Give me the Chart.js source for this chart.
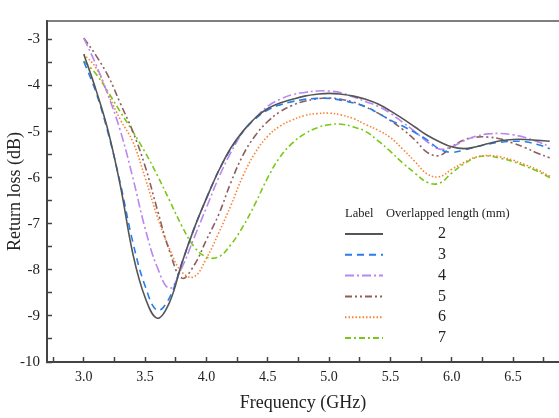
<!DOCTYPE html>
<html>
<head>
<meta charset="utf-8">
<script src="https://cdn.jsdelivr.net/npm/chart.js@4.4.1/dist/chart.umd.min.js"></script>
<style>
  body { margin: 0; background: #fff; }
  #contenedor { width: 559px; height: 418px; position: relative; }
</style>
</head>
<body>
<div id="contenedor"><canvas id="myChart"></canvas></div>
<script>
//DATOS
const frecuencia = [3.0, 3.1, 3.2, 3.3, 3.4, 3.5, 3.6, 3.7, 3.8, 3.9,
  4.0, 4.1, 4.2, 4.3, 4.4, 4.5, 4.6, 4.7, 4.8, 4.9,
  5.0, 5.1, 5.2, 5.3, 5.4, 5.5, 5.6, 5.7, 5.8, 5.9,
  6.0, 6.1, 6.2, 6.3, 6.4, 6.5, 6.6, 6.7, 6.8];

const largos = ["2", "3", "4", "5", "6", "7"];

const rl2 = [-3.32, -4.1, -5.0, -6.2, -7.65, -8.6, -9.05, -8.7, -7.85, -7.1,
  -6.45, -5.85, -5.35, -4.98, -4.7, -4.5, -4.38, -4.3, -4.23, -4.19,
  -4.17, -4.19, -4.23, -4.3, -4.4, -4.55, -4.72, -4.9, -5.08, -5.22,
  -5.33, -5.37, -5.33, -5.26, -5.2, -5.17, -5.17, -5.19, -5.21];

const rl3 = [-3.48, -4.15, -5.05, -6.15, -7.4, -8.35, -8.88, -8.6, -7.85, -7.1,
  -6.45, -5.85, -5.37, -5.0, -4.72, -4.53, -4.42, -4.35, -4.3, -4.28,
  -4.28, -4.32, -4.38, -4.46, -4.6, -4.75, -4.88, -5.02, -5.18, -5.38,
  -5.45, -5.4, -5.33, -5.27, -5.23, -5.21, -5.22, -5.28, -5.37];

const rl4 = [-2.97, -3.55, -4.22, -5.0, -6.0, -7.1, -7.95, -8.4, -7.95, -7.3,
  -6.65, -6.0, -5.45, -5.0, -4.7, -4.45, -4.3, -4.2, -4.15, -4.12,
  -4.12, -4.16, -4.25, -4.35, -4.45, -4.6, -4.8, -5.0, -5.22, -5.38,
  -5.33, -5.2, -5.1, -5.05, -5.04, -5.07, -5.13, -5.22, -5.32];

const rl5 = [-2.97, -3.35, -3.8, -4.4, -5.0, -5.75, -6.7, -7.6, -8.18, -7.9,
  -7.35, -6.8, -6.1, -5.5, -5.08, -4.78, -4.57, -4.43, -4.34, -4.29,
  -4.27, -4.3, -4.36, -4.47, -4.6, -4.76, -4.95, -5.18, -5.45, -5.52,
  -5.33, -5.18, -5.12, -5.12, -5.16, -5.25, -5.35, -5.47, -5.57];

const rl6 = [-3.32, -3.62, -4.2, -4.75, -5.22, -6.0, -6.85, -7.55, -8.05, -8.15,
  -7.75, -7.2, -6.6, -5.95, -5.45, -5.1, -4.88, -4.75, -4.65, -4.61,
  -4.6, -4.64, -4.72, -4.85, -4.97, -5.13, -5.38, -5.65, -5.92, -5.98,
  -5.82, -5.67, -5.55, -5.52, -5.55, -5.62, -5.72, -5.83, -5.97];

const rl7 = [-3.47, -3.75, -4.15, -4.58, -5.0, -5.45, -5.95, -6.5, -7.05, -7.5,
  -7.72, -7.72, -7.45, -7.05, -6.55, -6.0, -5.55, -5.25, -5.05, -4.92,
  -4.85, -4.84, -4.9, -5.0, -5.2, -5.43, -5.68, -5.9, -6.1, -6.12,
  -5.9, -5.7, -5.56, -5.53, -5.58, -5.65, -5.75, -5.86, -6.0];

const ticksX = [2.75, 3.0, 3.25, 3.5, 3.75, 4.0, 4.25, 4.5, 4.75, 5.0, 5.25, 5.5, 5.75, 6.0, 6.25, 6.5, 6.75];
const ticksY = [-10, -9.5, -9, -8.5, -8, -7.5, -7, -6.5, -6, -5.5, -5, -4.5, -4, -3.5, -3];

//ESTILOS
const colores = ["rgb(85,85,85)", "rgb(40,125,235)", "rgb(185,135,240)", "rgb(140,95,95)", "rgb(250,130,50)", "rgb(120,200,20)"];
const trazos = [[], [7, 5], [9, 3, 2, 3], [7, 3, 2, 3, 2, 3], [1.5, 2], [6, 3, 2, 3]];
const series = [rl2, rl3, rl4, rl5, rl6, rl7];

const FUENTE = "'Liberation Serif', 'Times New Roman', serif";

function puntos(valores) {
  return frecuencia.map((f, i) => ({ x: f, y: valores[i] }));
}

const datasets = series.map((s, i) => ({
  label: largos[i],
  data: puntos(s),
  borderColor: colores[i],
  borderDash: trazos[i],
  borderWidth: 1.6,
  pointRadius: 0,
  tension: 0.4,
  fill: false,
}));

// leyenda en forma de tabla (Label / Overlapped length)
const leyendaTabla = {
  id: "leyendaTabla",
  afterDraw(chart) {
    const ctx = chart.ctx;
    ctx.save();
    ctx.fillStyle = "#222";
    ctx.textBaseline = "middle";
    ctx.font = "12.5px " + FUENTE;
    ctx.textAlign = "left";
    ctx.fillText("Label", 345, 214);
    ctx.fillText("Overlapped length (mm)", 386, 214);
    chart.data.datasets.forEach((ds, i) => {
      const y = 234 + i * 20.8;
      ctx.strokeStyle = ds.borderColor;
      ctx.lineWidth = 2;
      ctx.setLineDash(ds.borderDash);
      ctx.beginPath();
      ctx.moveTo(345, y);
      ctx.lineTo(383, y);
      ctx.stroke();
      ctx.setLineDash([]);
      ctx.font = "16px " + FUENTE;
      ctx.textAlign = "center";
      ctx.fillText(ds.label, 442, y);
    });
    // linea superior del marco
    const a = chart.chartArea;
    ctx.strokeStyle = "#555";
    ctx.lineWidth = 1.5;
    ctx.beginPath();
    ctx.moveTo(a.left, a.top);
    ctx.lineTo(a.right, a.top);
    ctx.stroke();
    ctx.restore();
  },
};

const config = {
  type: "line",
  data: { datasets: datasets },
  plugins: [leyendaTabla],
  options: {
    responsive: true,
    maintainAspectRatio: false,
    animation: false,
    layout: { padding: { top: 10, right: 0, left: 0, bottom: 0 } },
    plugins: { legend: { display: false }, tooltip: { enabled: false } },
    scales: {
      x: {
        type: "linear",
        min: 2.7,
        max: 6.875,
        bounds: "data",
        afterBuildTicks: (scale) => { scale.ticks = ticksX.map((v) => ({ value: v })); },
        afterFit: (scale) => { scale.height = 56; },
        border: { display: true, color: "#444", width: 2 },
        grid: { drawOnChartArea: false, drawTicks: true, tickLength: -5, tickColor: "#444", tickWidth: 1.5 },
        ticks: {
          autoSkip: false,
          maxRotation: 0,
          padding: 12,
          color: "#222",
          font: { family: FUENTE, size: 14 },
          callback: (v) => (Math.abs(v * 2 - Math.round(v * 2)) < 1e-6 ? v.toFixed(1) : ""),
        },
        title: {
          display: true,
          text: "Frequency (GHz)",
          color: "#222",
          font: { family: FUENTE, size: 18 },
          padding: { top: 0, bottom: 4 },
        },
      },
      y: {
        type: "linear",
        min: -10,
        max: -2.6,
        bounds: "data",
        afterBuildTicks: (scale) => { scale.ticks = ticksY.map((v) => ({ value: v })); },
        afterFit: (scale) => { scale.width = 47; },
        border: { display: true, color: "#444", width: 2 },
        grid: { drawOnChartArea: false, drawTicks: true, tickLength: -5, tickColor: "#444", tickWidth: 1.5 },
        ticks: {
          autoSkip: false,
          padding: 12,
          color: "#222",
          font: { family: FUENTE, size: 15 },
          callback: (v) => (Number.isInteger(v) ? String(v) : ""),
        },
        title: {
          display: true,
          text: "Return loss (dB)",
          color: "#222",
          font: { family: FUENTE, size: 18 },
          padding: { top: 4, bottom: 0 },
        },
      },
    },
  },
};

const myChart = new Chart(document.getElementById("myChart"), config);
</script>
</body>
</html>
